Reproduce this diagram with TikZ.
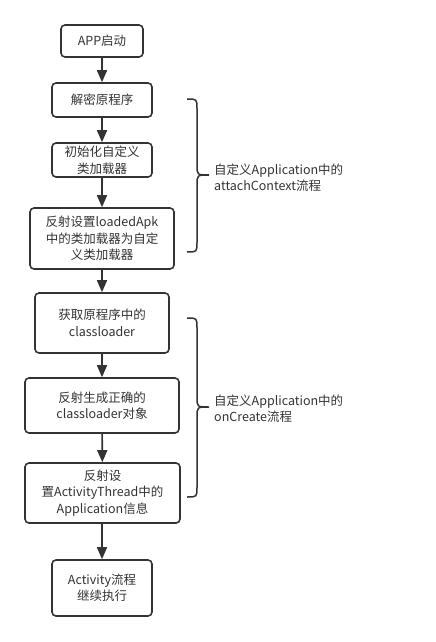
\documentclass[tikz,border=0pt]{standalone}
\usepackage{fontspec}
\setmainfont{Noto Sans CJK SC}
\usetikzlibrary{arrows.meta}
\definecolor{ink}{HTML}{333333}
\begin{document}
\begin{tikzpicture}[x=1bp,y=-1bp,
  box/.style={draw=ink,line width=1.6bp,rounded corners=4bp,align=center,inner sep=0pt,text=ink,font=\fontsize{12.5bp}{16.5bp}\selectfont},
  arr/.style={draw=ink,line width=1.6bp,-{Triangle[width=10bp,length=12bp]}},
  brace/.style={draw=ink,line width=1.5bp},
  lbl/.style={anchor=west,align=left,inner sep=0pt,text=ink,font=\fontsize{12.5bp}{16bp}\selectfont}]
\useasboundingbox (0,0) rectangle (436,642);
\node[box,minimum width=82bp,minimum height=32bp] (b1) at (102,41) {APP启动};
\node[box,minimum width=100bp,minimum height=34bp] (b2) at (102,100) {解密原程序};
\node[box,minimum width=100bp,minimum height=34bp] (b3) at (102,160) {初始化自定义\\类加载器};
\node[box,minimum width=144bp,minimum height=61bp] (b4) at (102,238.5) {反射设置loadedApk\\中的类加载器为自定\\义类加载器};
\node[box,minimum width=134bp,minimum height=60bp] (b5) at (102,323) {获取原程序中的\\classloader};
\node[box,minimum width=154bp,minimum height=55bp] (b6) at (102,405.5) {反射生成正确的\\classloader对象};
\node[box,minimum width=155bp,minimum height=60bp] (b7) at (102.5,493) {反射设\\置ActivityThread中的\\Application信息};
\node[box,minimum width=100bp,minimum height=56bp] (b8) at (102,588) {Activity流程\\继续执行};
\draw[arr] (b1) -- (b2);
\draw[arr] (b2) -- (b3);
\draw[arr] (b3) -- (b4);
\draw[arr] (b4) -- (b5);
\draw[arr] (b5) -- (b6);
\draw[arr] (b6) -- (b7);
\draw[arr] (b7.south -| b8.north) -- (b8);
\draw[brace] (187,99) .. controls (197,99) .. (197,109) -- (197,165) .. controls (197,175) .. (209,175) .. controls (197,175) .. (197,185) -- (197,242) .. controls (197,252) .. (187,252);
\draw[brace] (187,318) .. controls (197,318) .. (197,328) -- (197,397) .. controls (197,407) .. (209,407) .. controls (197,407) .. (197,417) -- (197,487) .. controls (197,497) .. (187,497);
\node[lbl] (l1) at (214,178) {自定义Application中的\\attachContext流程};
\node[lbl] (l2) at (214,409) {自定义Application中的\\onCreate流程};
\end{tikzpicture}
\end{document}
